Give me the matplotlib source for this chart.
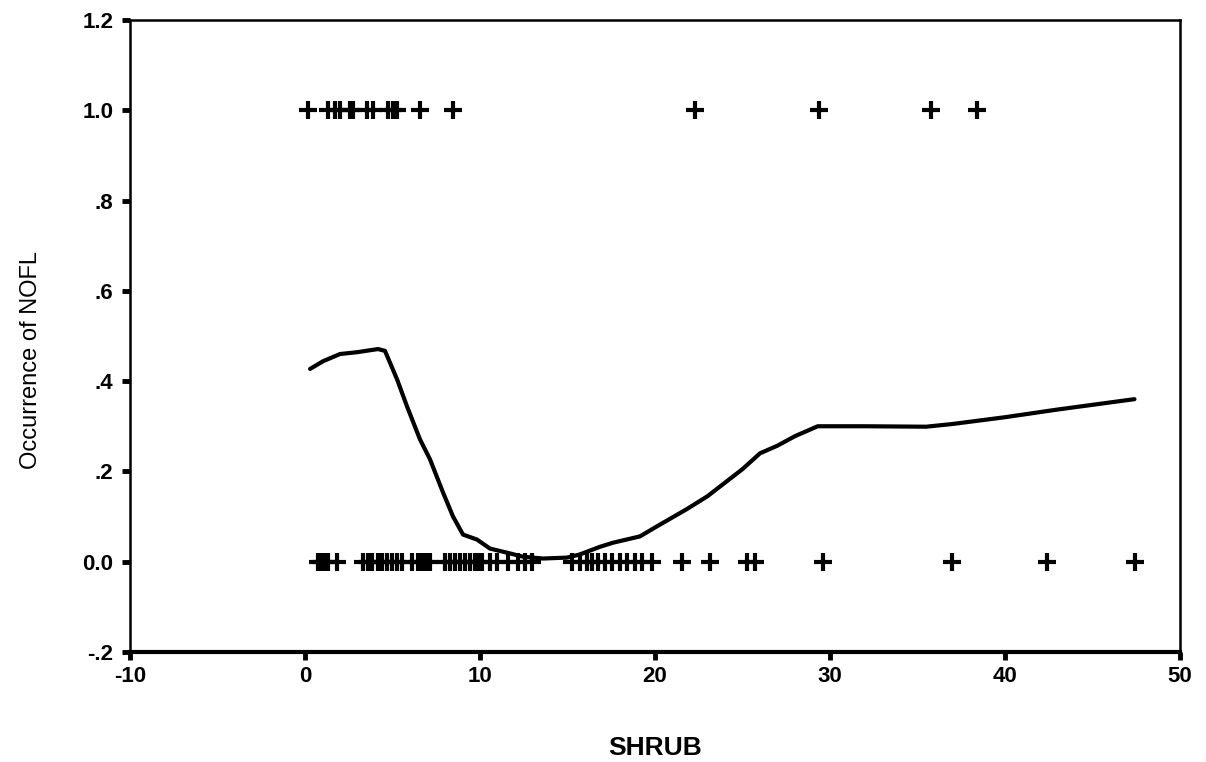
import matplotlib
matplotlib.use("Agg")
import matplotlib.pyplot as plt
import numpy as np

# observed presence (y = 1) and absence (y = 0) of NOFL against shrub cover
SHRUB_PRESENT = [0.17, 1.31, 1.71, 2.0, 2.57, 2.74, 3.54, 3.89, 4.74, 5.03, 5.26,
                 6.57, 8.46, 22.3, 29.4, 35.8, 38.4]
SHRUB_ABSENT = [0.74, 0.91, 1.09, 1.31, 1.83,
                3.31, 3.6, 3.83, 4.17, 4.4, 4.69, 4.97, 5.26, 5.54,
                6.11, 6.46, 6.69, 6.91, 7.14, 8.0, 8.29, 8.57, 8.86, 9.14, 9.43,
                9.71, 9.89, 10.11, 10.57, 10.97,
                11.6, 12.17, 12.57, 12.97, 15.26, 15.71, 16.11, 16.4, 16.74, 17.14, 17.54,
                18.0, 18.4, 18.86, 19.26, 19.83, 21.54, 23.14, 25.26, 25.71,
                29.6, 36.97, 42.4, 47.43]

# smoothed occurrence curve
CURVE_X = [0.29, 1.03, 2.0, 2.97, 4.17, 4.57, 5.26, 5.83, 6.57, 7.14, 7.89, 8.46,
           9.03, 9.83, 10.57, 11.54, 12.46, 13.6, 14.97, 15.7, 16.86, 17.6, 19.14,
           20.1, 21.8, 23.0, 24.0, 25.0, 26.0, 27.0, 28.0, 29.3, 32.0, 35.5, 37.0,
           40.0, 43.0, 47.4]
CURVE_Y = [0.427, 0.444, 0.46, 0.464, 0.471, 0.467, 0.404, 0.344, 0.271, 0.227,
           0.153, 0.1, 0.06, 0.049, 0.029, 0.02, 0.011, 0.007, 0.009, 0.016, 0.033,
           0.042, 0.056, 0.078, 0.116, 0.145, 0.175, 0.205, 0.24, 0.257, 0.278,
           0.30, 0.30, 0.299, 0.305, 0.32, 0.337, 0.36]

X_TICKS = [-10, 0, 10, 20, 30, 40, 50]
Y_TICKS = [-0.2, 0.0, 0.2, 0.4, 0.6, 0.8, 1.0, 1.2]
Y_TICK_LABELS = ["-.2", "0.0", ".2", ".4", ".6", ".8", "1.0", "1.2"]

fig = plt.figure(figsize=(12.06, 7.62), dpi=100)
ax = fig.add_axes([0.1078, 0.1444, 0.8706, 0.8294])

ax.plot(SHRUB_PRESENT, np.ones(len(SHRUB_PRESENT)), "+", color="black", ms=13, mew=3.0)
ax.plot(SHRUB_ABSENT, np.zeros(len(SHRUB_ABSENT)), "+", color="black", ms=13, mew=3.0)
ax.plot(CURVE_X, CURVE_Y, "-", color="black", lw=3.0, solid_capstyle="round")

ax.set_xlim(-10, 50)
ax.set_ylim(-0.2, 1.2)
ax.set_xticks(X_TICKS)
ax.set_xticklabels([str(t) for t in X_TICKS], fontsize=16, fontweight="bold",
                   family=["Liberation Sans Narrow", "Liberation Sans", "DejaVu Sans"])
ax.set_yticks(Y_TICKS)
ax.set_yticklabels(Y_TICK_LABELS, fontsize=16, fontweight="bold",
                   family=["Liberation Sans", "DejaVu Sans"])
ax.tick_params(axis="both", direction="out", length=6, width=3.5, color="black")
ax.tick_params(axis="x", pad=4)
ax.tick_params(axis="y", pad=6)

for name, spine in ax.spines.items():
    spine.set_linewidth(1.8)
ax.spines["bottom"].set_linewidth(3.0)

ax.set_ylabel("Occurrence of NOFL", fontsize=17,
              family=["Liberation Sans Narrow", "Liberation Sans", "DejaVu Sans"])
ax.yaxis.set_label_coords(-0.084, 0.462)
ax.set_xlabel("SHRUB", fontsize=19, fontweight="bold",
              family=["Liberation Sans", "DejaVu Sans"])
ax.xaxis.set_label_coords(0.5, -0.133)

fig.savefig("out.png", dpi=100)
plt.close(fig)
